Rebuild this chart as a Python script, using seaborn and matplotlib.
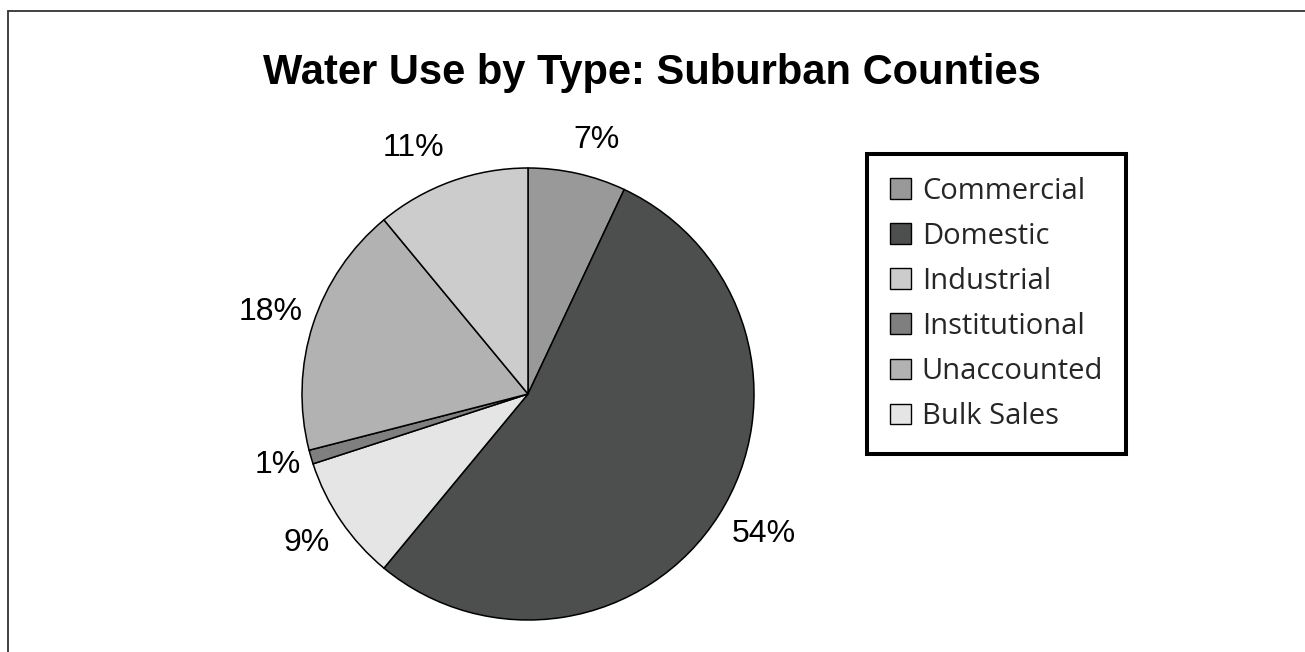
import matplotlib
matplotlib.use("Agg")
import numpy as np
import matplotlib.pyplot as plt
from matplotlib.patches import Patch
from matplotlib.lines import Line2D
import seaborn as sns

# Data (clockwise from 12 o'clock)
slice_labels = ["Commercial", "Domestic", "Bulk Sales", "Institutional", "Unaccounted", "Industrial"]
slice_values = [7, 54, 9, 1, 18, 11]
legend_order = ["Commercial", "Domestic", "Industrial", "Institutional", "Unaccounted", "Bulk Sales"]
colors = {
    "Commercial": "#999999",
    "Domestic": "#4d4f4e",
    "Industrial": "#cccccc",
    "Institutional": "#7f7f7f",
    "Unaccounted": "#b2b2b2",
    "Bulk Sales": "#e4e5e4",
}
title = "Water Use by Type: Suburban Counties"

# layout: radial distance (pie radii) and angular nudge (deg) of each percentage label
label_radius = [1.163, 1.213, 1.18, 1.15, 1.194, 1.20]
label_nudge = [-2.4, 1.7, -0.2, -0.3, 0.3, 5.1]

sns.set_theme(style="white")
plt.rcParams["font.family"] = ["Liberation Sans", "DejaVu Sans"]

W, H = 1305, 652
fig = plt.figure(figsize=(W / 100, H / 100), dpi=100)
fig.patch.set_facecolor("white")

cx, cy, r = 528, 394, 226
ax = fig.add_axes([(cx - r) / W, (H - cy - r) / H, 2 * r / W, 2 * r / H])
wedges, texts, autotexts = ax.pie(
    slice_values,
    colors=[colors[l] for l in slice_labels],
    startangle=90,
    counterclock=False,
    autopct=lambda p: f"{p:.0f}%",
    pctdistance=1.2,
    wedgeprops=dict(edgecolor="black", linewidth=1.1),
    textprops=dict(fontsize=23, color="black"),
)
for w, t, d, n in zip(wedges, autotexts, label_radius, label_nudge):
    mid = np.deg2rad((w.theta1 + w.theta2) / 2 + n)
    t.set_position((d * np.cos(mid), d * np.sin(mid)))
    t.set_ha("center")
    t.set_va("center")
ax.set_xlim(-1, 1)
ax.set_ylim(-1, 1)
ax.set_aspect("equal")
ax.axis("off")

fig.text(652 / W, 1 - 73 / H, title, ha="center", va="center",
         fontsize=30, fontweight="bold", color="black")

handles = [Patch(facecolor=colors[l], edgecolor="black", linewidth=1.0) for l in legend_order]
leg = fig.legend(
    handles, legend_order,
    loc="upper left",
    bbox_to_anchor=(867 / W, 1 - 154 / H),
    borderaxespad=0,
    frameon=True,
    fancybox=False,
    prop=dict(family="Open Sans", size=21),
    handlelength=0.72,
    handleheight=0.70,
    handletextpad=0.38,
    labelspacing=0.55,
    borderpad=0.78,
)
frame = leg.get_frame()
frame.set_edgecolor("black")
frame.set_linewidth(2.9)
frame.set_facecolor("white")
frame.set_alpha(1)

# surrounding frame lines (top and left)
fig.add_artist(Line2D([8 / W, 1.0], [1 - 11 / H, 1 - 11 / H], color="#333333", linewidth=1.3, transform=fig.transFigure))
fig.add_artist(Line2D([8 / W, 8 / W], [1 - 11 / H, 0.0], color="#333333", linewidth=1.3, transform=fig.transFigure))

fig.savefig("out.png", dpi=100, facecolor="white")
